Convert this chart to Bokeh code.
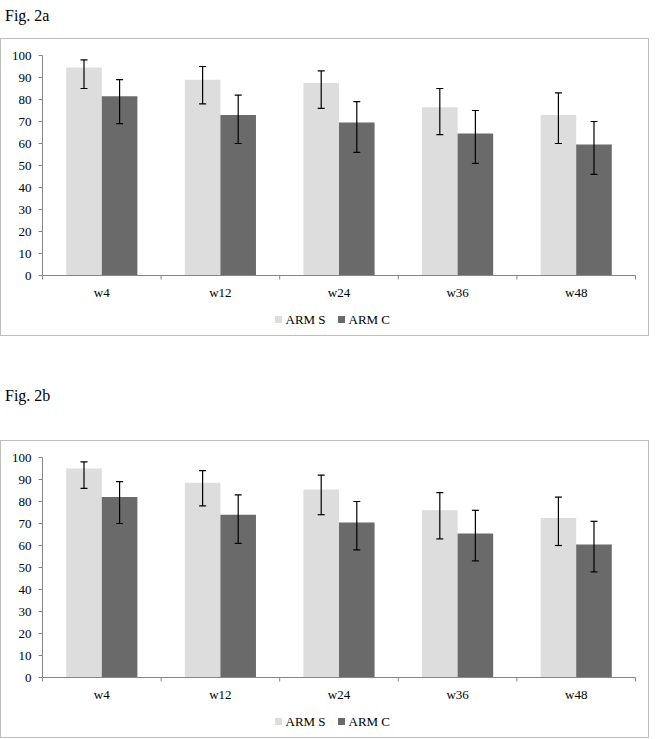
from bokeh.plotting import figure
from bokeh.models import (ColumnDataSource, Whisker, TeeHead, Range1d, Div)
from bokeh.core.properties import value
from bokeh.embed import file_html
from bokeh.resources import INLINE
import numpy as np

cats = ["w4", "w12", "w24", "w36", "w48"]
series_names = ["ARM S", "ARM C"]
y_ticks = [0, 10, 20, 30, 40, 50, 60, 70, 80, 90, 100]

# Fig. 2a
a_s = [94.5, 89, 87.5, 76.5, 73]
a_s_lo = [85, 78, 76, 64, 60]
a_s_hi = [98, 95, 93, 85, 83]
a_c = [81.5, 73, 69.5, 64.5, 59.5]
a_c_lo = [69, 60, 56, 51, 46]
a_c_hi = [89, 82, 79, 75, 70]

# Fig. 2b
b_s = [95, 88.5, 85.5, 76, 72.5]
b_s_lo = [86, 78, 74, 63, 60]
b_s_hi = [98, 94, 92, 84, 82]
b_c = [82, 74, 70.5, 65.5, 60.5]
b_c_lo = [70, 61, 58, 53, 48]
b_c_hi = [89, 83, 80, 76, 71]

FONT = "Liberation Serif"
AX = "#868686"
C_S = "#dddddd"
C_C = "#6a6a6a"
W = 649
H = 298
# pixel margins between box edge and the plotting area
L, R, T, B = 41, 15, 16, 62


def make_chart(s, s_lo, s_hi, c, c_lo, c_hi):
    n = len(cats)
    ymax = 100.0
    ppx = (W - L - R) / n          # pixels per category
    ppy = (H - T - B) / ymax       # pixels per unit
    x0, x1 = -L / ppx, n + R / ppx
    y0, y1 = -B / ppy, ymax + T / ppy

    p = figure(width=W, height=H, output_backend="svg", toolbar_location=None,
               x_range=Range1d(x0, x1), y_range=Range1d(y0, y1),
               x_axis_location=None, y_axis_location=None,
               min_border=0, min_border_left=0, min_border_right=0,
               min_border_top=0, min_border_bottom=0,
               styles={"border": "1px solid #bfbfbf"})
    p.outline_line_color = None
    p.grid.visible = False
    p.background_fill_color = "white"

    centers = np.arange(n) + 0.5
    bw = 0.3
    src_s = ColumnDataSource(dict(x=centers - bw / 2, top=s, lo=s_lo, hi=s_hi))
    src_c = ColumnDataSource(dict(x=centers + bw / 2, top=c, lo=c_lo, hi=c_hi))
    p.vbar(x="x", top="top", bottom=0, width=bw, source=src_s, fill_color=C_S, line_color=None)
    p.vbar(x="x", top="top", bottom=0, width=bw, source=src_c, fill_color=C_C, line_color=None)
    for src in (src_s, src_c):
        p.add_layout(Whisker(base="x", upper="hi", lower="lo", source=src,
                             level="overlay",
                             line_color="black", line_width=1.2,
                             upper_head=TeeHead(size=7, line_color="black", line_width=1.2),
                             lower_head=TeeHead(size=7, line_color="black", line_width=1.2)))

    # y axis: line, outward ticks, labels
    nt = len(y_ticks)
    p.segment(x0=[0], y0=[0], x1=[0], y1=[ymax], line_color=AX, line_width=1)
    p.segment(x0=[0] * nt, y0=y_ticks, x1=[-4 / ppx] * nt, y1=y_ticks,
              line_color=AX, line_width=1)
    p.text(x=[-11 / ppx] * nt, y=y_ticks, text=[str(t) for t in y_ticks],
           text_align="right", text_baseline="middle",
           text_font=value(FONT), text_font_size=value("13px"), text_color="black")

    # x axis: line, boundary ticks, category labels
    bounds = list(range(n + 1))
    p.segment(x0=[0], y0=[0], x1=[n], y1=[0], line_color=AX, line_width=1)
    p.segment(x0=bounds, y0=[0] * (n + 1), x1=bounds, y1=[-4 / ppy] * (n + 1),
              line_color=AX, line_width=1)
    p.text(x=list(centers), y=[-9 / ppy] * n, text=cats,
           text_align="center", text_baseline="top",
           text_font=value(FONT), text_font_size=value("13px"), text_color="black")

    # legend below the axis
    ly = y1 - 280 / ppy
    sq_x = [x0 + 277 / ppx, x0 + 340 / ppx]
    tx_x = [x0 + 284 / ppx, x0 + 347 / ppx]
    p.scatter(x=sq_x, y=[ly, ly], marker="square", size=7,
              fill_color=[C_S, C_C], line_color=None)
    p.text(x=tx_x, y=[ly, ly], text=series_names,
           text_align="left", text_baseline="middle",
           text_font=value(FONT), text_font_size=value("13px"), text_color="black")
    return p


p1 = make_chart(a_s, a_s_lo, a_s_hi, a_c, a_c_lo, a_c_hi)
p2 = make_chart(b_s, b_s_lo, b_s_hi, b_c, b_c_lo, b_c_hi)

d1 = Div(text="Fig. 2a", width=W, height=28,
         styles={"font-family": FONT, "font-size": "16px", "color": "black"})
d2 = Div(text='<div style="padding-top:44px">Fig. 2b</div>', width=W, height=94,
         styles={"font-family": FONT, "font-size": "16px", "color": "black"})

open("out.html", "w").write(file_html([d1, p1, d2, p2], INLINE))
